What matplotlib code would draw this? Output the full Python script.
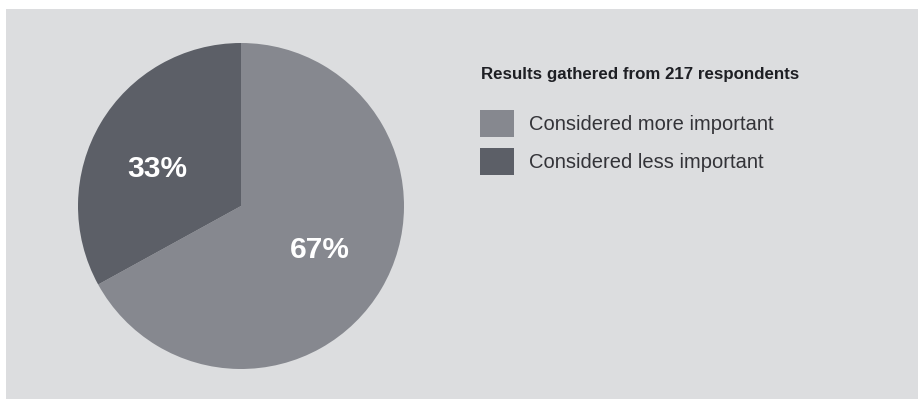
import matplotlib
matplotlib.use("Agg")
import numpy as np
import matplotlib.pyplot as plt
from matplotlib.patches import Rectangle

plt.rcParams['font.family'] = ['Liberation Sans', 'DejaVu Sans']

categories = ["Considered more important", "Considered less important"]
values = [67, 33]
pct_labels = ["67%", "33%"]
colors = ["#86888f", "#5c5f67"]
title = "Results gathered from 217 respondents"

W, H = 918, 400
fig = plt.figure(figsize=(W / 100, H / 100), dpi=100, facecolor="white")

# panel background
fig.patches.append(Rectangle((6 / W, 1 / H), (W - 6) / W, (391 - 1) / H,
                             transform=fig.transFigure, facecolor="#dcdddf",
                             edgecolor="none", zorder=-10))

# pie axes: center (241, 206), radius 163 px
cx, cy, r = 241, 206, 163
ax = fig.add_axes([(cx - r) / W, (H - cy - r) / H, 2 * r / W, 2 * r / H])
ax.set_facecolor("none")
wedges, texts = ax.pie(values, colors=colors, startangle=90, counterclock=False,
                       labels=pct_labels, labeldistance=0.55,
                       wedgeprops=dict(edgecolor="none", linewidth=0),
                       textprops=dict(color="white", fontsize=21.5, fontweight="bold",
                                      ha="center", va="center"))
# small angular nudges of the label positions within their wedges
nudges = [1.5, 6.5]
dists = [0.55, 0.56]
for w, t, dn, d in zip(wedges, texts, nudges, dists):
    mid = np.deg2rad((w.theta1 + w.theta2) / 2 + dn)
    t.set_position((d * np.cos(mid), d * np.sin(mid)))
ax.set_xlim(-1, 1)
ax.set_ylim(-1, 1)
ax.set_aspect("equal")
ax.axis("off")

fig.text(481 / W, (H - 79) / H, title, fontsize=12.2, fontweight="bold",
         color="#1e1f24", ha="left", va="baseline")

fs = 14.5
fspx = fs * 100 / 72
hh = (27 / fspx - 0.245) / 0.65
leg = fig.legend(wedges, categories, loc="upper left",
                 bbox_to_anchor=(480 / W, (H - 110) / H),
                 frameon=False, fontsize=fs, borderpad=0, borderaxespad=0,
                 handlelength=34 / fspx, handleheight=hh,
                 labelspacing=(38 - 27) / fspx, handletextpad=15 / fspx)
for t in leg.get_texts():
    t.set_color("#333338")

fig.savefig("out.png", dpi=100, facecolor="white")
